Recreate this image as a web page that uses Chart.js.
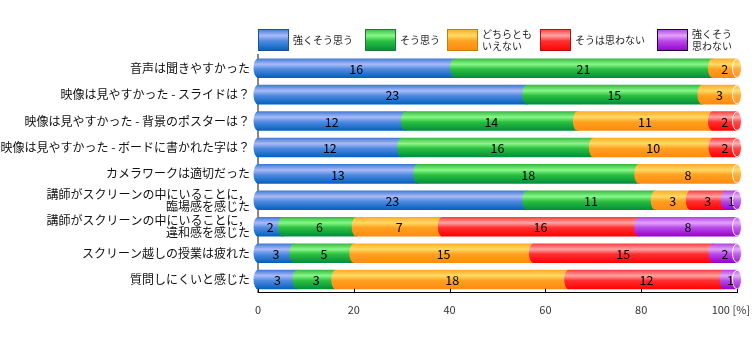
<!DOCTYPE html>
<html>
<head>
<meta charset="utf-8">
<script src="https://cdn.jsdelivr.net/npm/chart.js@4"></script>
<style>
  body { margin: 0; background: #fff; }
  canvas { display: block; }
</style>
</head>
<body>
<canvas id="surveyChart" width="752" height="339"></canvas>
<script>
var categories = [
    "音声は聞きやすかった",
    "映像は見やすかった - スライドは？",
    "映像は見やすかった - 背景のポスターは？",
    "映像は見やすかった - ボードに書かれた字は？",
    "カメラワークは適切だった",
    ["講師がスクリーンの中にいることに，", "臨場感を感じた"],
    ["講師がスクリーンの中にいることに，", "違和感を感じた"],
    "スクリーン越しの授業は疲れた",
    "質問しにくいと感じた"
];

var seriesNames = ["強くそう思う", "そう思う", ["どちらとも", "いえない"], "そうは思わない", ["強くそう", "思わない"]];

// answer counts per row
var stronglyAgree = [16, 23, 12, 12, 13, 23, 2, 3, 3];
var agree = [21, 15, 14, 16, 18, 11, 6, 5, 3];
var neutral = [2, 3, 11, 10, 8, 3, 7, 15, 18];
var disagree = [0, 0, 2, 2, 0, 3, 16, 15, 12];
var stronglyDisagree = [0, 0, 0, 0, 0, 1, 8, 2, 1];

var xTicks = [0, 20, 40, 60, 80, 100];

var counts = [stronglyAgree, agree, neutral, disagree, stronglyDisagree];

// top, highlight, middle, bottom
var shades = [
    ["#3c78d4", "#aabaf8", "#4f8ae0", "#0060bc"],
    ["#34b840", "#88f888", "#2cc040", "#008c3c"],
    ["#ffaa24", "#ffda64", "#ffa020", "#ff8a10"],
    ["#ff3838", "#ffa4a4", "#ff3030", "#ff0000"],
    ["#b040e0", "#e0a4f8", "#b848e8", "#9400cc"]
];
var edgeColors = ["#1d4f9a", "#1a7a30", "#c87a10", "#b01010", "#200030"];

var totals = categories.map(function (c, i) {
    var t = 0;
    counts.forEach(function (s) { t += s[i]; });
    return t;
});

function makeGradient(ctx, d, top, bottom) {
    var g = ctx.createLinearGradient(0, top, 0, bottom);
    var s = shades[d];
    g.addColorStop(0, s[0]);
    g.addColorStop(0.3, s[1]);
    g.addColorStop(0.55, s[2]);
    g.addColorStop(1, s[3]);
    return g;
}

var cylinderBars = {
    id: "cylinderBars",
    afterDatasetsDraw: function (chart) {
        var ctx = chart.ctx;
        var rx = 4.5;
        ctx.save();
        for (var i = 0; i < categories.length; i++) {
            var labels = [];
            var last = null;
            for (var d = 0; d < counts.length; d++) {
                if (!counts[d][i]) continue;
                var bar = chart.getDatasetMeta(d).data[i];
                var p = bar.getProps(["x", "y", "base", "height"], true);
                var x0 = Math.min(p.base, p.x), x1 = Math.max(p.base, p.x);
                var ry = p.height / 2, top = p.y - ry, bottom = p.y + ry;
                ctx.beginPath();
                ctx.ellipse(x0, p.y, rx, ry, 0, Math.PI / 2, Math.PI * 1.5);
                ctx.lineTo(x1, top);
                ctx.ellipse(x1, p.y, rx, ry, 0, -Math.PI / 2, Math.PI / 2);
                ctx.closePath();
                ctx.fillStyle = makeGradient(ctx, d, top, bottom);
                ctx.fill();
                labels.push({ text: String(counts[d][i]), x: (x0 + x1) / 2, y: p.y });
                last = { x: x1, y: p.y, ry: ry };
            }
            // end cap of the cylinder
            if (last) {
                ctx.beginPath();
                ctx.ellipse(last.x, last.y, rx, last.ry - 0.5, 0, 0, Math.PI * 2);
                ctx.fillStyle = "rgba(255,255,255,0.12)";
                ctx.fill();
                ctx.strokeStyle = "rgba(255,255,255,0.9)";
                ctx.lineWidth = 1;
                ctx.stroke();
            }
            ctx.fillStyle = "#000";
            ctx.font = "12.5px 'Noto Sans CJK JP', 'Noto Sans', sans-serif";
            ctx.textAlign = "center";
            ctx.textBaseline = "middle";
            labels.forEach(function (l) { ctx.fillText(l.text, l.x, l.y + 1); });
        }
        ctx.restore();
    }
};

var axisExtras = {
    id: "axisExtras",
    afterDraw: function (chart) {
        var ctx = chart.ctx;
        var xs = chart.scales.x;
        var area = chart.chartArea;
        ctx.save();
        // tick marks pointing into the plot
        ctx.strokeStyle = "#000";
        ctx.lineWidth = 1;
        xTicks.forEach(function (v) {
            var px = Math.round(xs.getPixelForValue(v)) + 0.5;
            ctx.beginPath();
            ctx.moveTo(px, area.bottom);
            ctx.lineTo(px, area.bottom - 4);
            ctx.stroke();
        });
        ctx.fillStyle = "#333";
        ctx.font = "11px 'Noto Sans CJK JP', 'Noto Sans', sans-serif";
        ctx.textAlign = "right";
        ctx.textBaseline = "middle";
        ctx.fillText("100 [%]", xs.getPixelForValue(100) + 13, area.bottom + 17);

        // legend
        var lx = [258, 365, 447, 540, 657];
        var top = 29, bw = 31, bh = 22;
        ctx.textAlign = "left";
        ctx.font = "10px 'Noto Sans CJK JP', sans-serif";
        ctx.fillStyle = "#222";
        seriesNames.forEach(function (name, d) {
            var x = lx[d];
            ctx.fillStyle = makeGradient(ctx, d, top, top + bh);
            ctx.fillRect(x, top, bw, bh);
            ctx.strokeStyle = edgeColors[d];
            ctx.strokeRect(x + 0.5, top + 0.5, bw - 1, bh - 1);
            ctx.fillStyle = "#222";
            if (Array.isArray(name)) {
                ctx.fillText(name[0], x + bw + 4, top + 5);
                ctx.fillText(name[1], x + bw + 4, top + 17);
            } else {
                ctx.fillText(name, x + bw + 4, top + bh / 2);
            }
        });
        ctx.restore();
    }
};

var ctx = document.getElementById("surveyChart").getContext("2d");
var surveyChart = new Chart(ctx, {
    type: "bar",
    data: {
        labels: categories,
        datasets: counts.map(function (s, d) {
            return {
                label: Array.isArray(seriesNames[d]) ? seriesNames[d].join("") : seriesNames[d],
                data: s.map(function (v, i) { return v / totals[i] * 100; }),
                backgroundColor: "rgba(0,0,0,0)",
                borderWidth: 0,
                barPercentage: 0.74,
                categoryPercentage: 1
            };
        })
    },
    options: {
        indexAxis: "y",
        responsive: false,
        animation: false,
        devicePixelRatio: 1,
        layout: { padding: { top: 55, right: 15, bottom: 13, left: 0 } },
        plugins: {
            legend: { display: false },
            tooltip: { enabled: false }
        },
        scales: {
            x: {
                stacked: true,
                min: 0,
                max: 100,
                grid: { display: false, drawTicks: false },
                border: { display: true, color: "#000", width: 1 },
                ticks: {
                    stepSize: 20,
                    padding: 10,
                    color: "#333",
                    font: { family: "'Noto Sans CJK JP', 'Noto Sans', sans-serif", size: 11 },
                    maxRotation: 0,
                    callback: function (v) { return v === 100 ? "" : v; }
                }
            },
            y: {
                stacked: true,
                grid: { display: false, drawTicks: false },
                border: { display: true, color: "#888", width: 2 },
                afterFit: function (scale) { scale.width = 258; },
                ticks: {
                    autoSkip: false,
                    padding: 8,
                    color: "#111",
                    font: { family: "'Noto Sans CJK JP', sans-serif", size: 12, lineHeight: 1.0 }
                }
            }
        }
    },
    plugins: [cylinderBars, axisExtras]
});
</script>
</body>
</html>
